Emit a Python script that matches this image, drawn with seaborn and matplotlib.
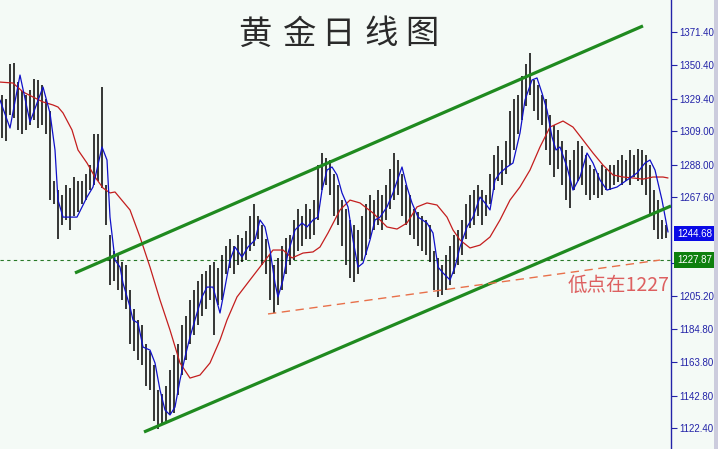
import matplotlib
matplotlib.use("Agg")
import matplotlib.pyplot as plt
import matplotlib.patches as mpatches
import seaborn as sns
import pandas as pd

# ---------------- data ----------------
bar_high = [1332, 1329, 1351, 1352, 1340, 1334, 1332, 1335, 1342, 1341,
            1338, 1329, 1322, 1278, 1272, 1269, 1275, 1273, 1280, 1278,
            1278, 1282, 1288, 1307, 1307, 1337, 1275, 1244, 1234, 1231,
            1227, 1225, 1209, 1197, 1190, 1187, 1175, 1171, 1162, 1146,
            1144, 1149, 1159, 1168, 1175, 1187, 1193, 1203, 1209, 1215,
            1219, 1221, 1225, 1227, 1223, 1231, 1237, 1241, 1237, 1244,
            1242, 1246, 1256, 1263, 1256, 1250, 1241, 1231, 1225, 1229,
            1237, 1242, 1244, 1253, 1260, 1256, 1263, 1260, 1266, 1288,
            1295, 1292, 1291, 1282, 1275, 1266, 1260, 1253, 1250, 1247,
            1256, 1263, 1269, 1266, 1272, 1269, 1275, 1285, 1295, 1291,
            1282, 1275, 1269, 1260, 1258, 1256, 1253, 1250, 1234, 1229,
            1225, 1231, 1237, 1244, 1247, 1253, 1263, 1269, 1272, 1275,
            1272, 1269, 1282, 1294, 1300, 1291, 1303, 1322, 1329, 1332,
            1344, 1351, 1358, 1341, 1338, 1332, 1329, 1319, 1313, 1310,
            1303, 1297, 1291, 1297, 1303, 1300, 1294, 1288, 1285, 1283,
            1288, 1285, 1288, 1288, 1291, 1294, 1291, 1297, 1294, 1298,
            1297, 1294, 1288, 1272, 1266, 1253, 1250]
bar_low = [1305, 1303, 1319, 1317, 1310, 1307, 1310, 1313, 1316, 1311,
           1313, 1307, 1266, 1263, 1241, 1250, 1253, 1247, 1256, 1258,
           1263, 1266, 1272, 1275, 1278, 1273, 1250, 1212, 1215, 1209,
           1203, 1197, 1175, 1171, 1165, 1162, 1149, 1146, 1127, 1122,
           1124, 1127, 1131, 1132, 1143, 1156, 1165, 1175, 1181, 1187,
           1193, 1197, 1203, 1181, 1200, 1203, 1219, 1223, 1219, 1225,
           1227, 1228, 1234, 1237, 1241, 1225, 1219, 1203, 1195, 1200,
           1209, 1219, 1225, 1228, 1234, 1237, 1241, 1241, 1244, 1253,
           1272, 1275, 1269, 1256, 1250, 1237, 1225, 1217, 1214, 1219,
           1228, 1231, 1241, 1247, 1250, 1247, 1253, 1260, 1266, 1269,
           1256, 1250, 1244, 1241, 1237, 1234, 1231, 1227, 1209, 1205,
           1206, 1209, 1212, 1219, 1225, 1231, 1241, 1248, 1250, 1256,
           1250, 1256, 1263, 1272, 1278, 1275, 1282, 1288, 1297, 1307,
           1316, 1325, 1332, 1322, 1316, 1313, 1297, 1288, 1280, 1285,
           1275, 1266, 1261, 1272, 1278, 1275, 1269, 1266, 1269, 1267,
           1269, 1272, 1272, 1275, 1277, 1275, 1278, 1275, 1280, 1278,
           1275, 1269, 1256, 1247, 1241, 1241, 1242]

# fast moving average (blue): bar position, price
ma_fast_pos = [-0.5, 2, 4.5, 7, 10.25, 12, 13.25, 14, 15.25, 18.75, 21.25, 22.75,
               25, 26.25, 27, 28.25, 29.5, 30.25, 32, 32.75, 34, 35.25, 37, 38.25,
               39.5, 40.75, 42, 43.25, 44.5, 45.75, 47, 48.75, 50, 51.25, 52.75,
               54.5, 55.75, 57, 58.25, 60, 61.5, 63.25, 64.5, 65.75, 67, 68.25, 69,
               70.25, 71.5, 73.25, 75, 76.25, 77.75, 79, 80, 81.25, 82.5, 83.75,
               85, 86.5, 87.75, 89, 90.25, 92, 93.25, 94.5, 96.25, 97.75, 100,
               101.25, 102.5, 104, 106.25, 107.75, 109, 110.25, 112, 113.25, 114.5,
               116.25, 117.75, 119.5, 120.75, 122, 123.25, 124.5, 126.25, 127.75,
               129.5, 130.75, 132.5, 133.75, 135, 136.25, 137.5, 138.5, 139.5,
               141.25, 142.75, 144.5, 146.25, 147.75, 149.5, 151.25, 153.75,
               156.25, 158.75, 160.75, 162, 163.25, 165, 166.5]
ma_fast_val = [1328.6, 1311.0, 1344.3, 1314.8, 1336.8, 1320.4, 1297.2, 1265.7, 1255.0,
               1255.0, 1267.6, 1273.9, 1299.1, 1290.9, 1255.0, 1228.0, 1223.6, 1213.5,
               1198.5, 1190.3, 1188.4, 1173.3, 1171.4, 1163.3, 1146.3, 1133.7, 1130.6,
               1135.6, 1152.6, 1167.0, 1179.6, 1194.7, 1204.8, 1211.0, 1211.0, 1194.7,
               1211.0, 1228.0, 1236.2, 1229.9, 1236.2, 1240.6, 1253.2, 1248.8, 1234.3,
               1213.5, 1204.8, 1215.5, 1232.4, 1246.9, 1251.3, 1248.8, 1253.2, 1255.0,
               1272.0, 1284.6, 1286.5, 1281.5, 1270.2, 1261.4, 1240.6, 1223.6, 1226.1,
               1240.6, 1253.2, 1255.0, 1261.4, 1270.2, 1286.5, 1273.9, 1263.9, 1255.0,
               1251.3, 1245.0, 1223.6, 1219.9, 1215.5, 1223.6, 1236.2, 1248.8, 1255.0,
               1267.6, 1263.9, 1259.5, 1278.3, 1282.7, 1286.5, 1289.0, 1307.9, 1328.6,
               1341.2, 1342.5, 1333.0, 1322.3, 1305.4, 1297.2, 1299.1, 1286.5, 1272.0,
               1280.2, 1295.3, 1289.0, 1278.3, 1272.0, 1273.9, 1278.3, 1282.7, 1289.0,
               1290.9, 1284.6, 1265.7, 1245.6]

# slow moving average (red)
ma_slow_pos = [-0.5, 2.75, 5.25, 7.75, 10.25, 12.75, 14, 15.25, 17.5, 19, 21.25, 23.25,
               25.25, 27, 28.25, 32, 34.5, 37, 39.5, 42, 44.5, 47, 49.5, 52, 54.5,
               56.25, 58.75, 62, 65.25, 67.75, 70.25, 72.5, 75.25, 77.75, 79.5, 81.5,
               84.5, 87, 89.5, 92.75, 96.25, 98.75, 101.25, 103.75, 106.25, 108.75,
               111.25, 112.75, 114.5, 117, 119.5, 122, 124.5, 127, 129.5, 132, 134.5,
               137, 140.25, 142.75, 145.25, 147.75, 150.25, 152.75, 155.25, 157.75,
               160.25, 162.75, 165.25, 166.5]
ma_slow_val = [1339.9, 1339.3, 1333.7, 1330.5, 1327.4, 1325.5, 1324.2, 1320.5, 1309.8,
               1297.2, 1289.0, 1280.2, 1273.3, 1270.2, 1270.8, 1259.5, 1242.5, 1223.6,
               1202.9, 1184.0, 1163.3, 1153.8, 1155.7, 1163.3, 1177.7, 1190.3, 1204.8,
               1215.5, 1226.1, 1234.3, 1234.3, 1229.3, 1232.4, 1233.1, 1236.2, 1245.0,
               1259.5, 1265.7, 1263.9, 1257.6, 1248.8, 1247.5, 1251.3, 1261.4, 1263.9,
               1262.6, 1255.0, 1246.9, 1240.6, 1235.6, 1237.4, 1242.5, 1253.2, 1265.7,
               1274.0, 1284.6, 1299.1, 1311.6, 1315.4, 1311.6, 1303.5, 1295.3, 1287.7,
               1281.5, 1280.2, 1279.6, 1278.9, 1280.2, 1280.2, 1279.6]

# channel & trend lines (bar position, price)
upper_pos, upper_val = [18.25, 160.25], [1219.9, 1375.2]
lower_pos, lower_val = [35.5, 167.25], [1119.9, 1262.0]
trend_pos, trend_val = [66.5, 164.5], [1194.1, 1228.0]
support_level = 1227.87
last_price = 1244.68

tick_values = [1371.40, 1350.40, 1329.40, 1309.00, 1288.00, 1267.60, 1226.20,
               1205.20, 1184.80, 1163.80, 1142.80, 1122.40]
tick_labels = ["1371.40", "1350.40", "1329.40", "1309.00", "1288.00", "1267.60",
               "1226.20", "1205.20", "1184.80", "1163.80", "1142.80", "1122.40"]

title_chars = ["黄", "金", "日", "线", "图"]
note_text = "低点在1227"

# ---------------- drawing ----------------
BG = "#F4FAF6"
sns.set_theme(style="white", rc={"axes.facecolor": BG, "figure.facecolor": BG})
plt.rcParams["font.family"] = ["Liberation Sans", "DejaVu Sans"]

fig = plt.figure(figsize=(7.18, 4.49), dpi=100)
ax = fig.add_axes([0, 0, 671 / 718, 1])
ax.set_xlim(-0.5, 167.25)
ax.set_ylim(1109.2, 1391.5)

bars = pd.DataFrame({"pos": range(len(bar_high)), "high": bar_high, "low": bar_low})
ax.vlines(bars["pos"], bars["low"], bars["high"], color="black", lw=1.1, zorder=3)

fast = pd.DataFrame({"pos": ma_fast_pos, "val": ma_fast_val})
slow = pd.DataFrame({"pos": ma_slow_pos, "val": ma_slow_val})
sns.lineplot(data=slow, x="pos", y="val", ax=ax, color="#C41E1E", lw=0.9,
             sort=False, estimator=None, zorder=4)
sns.lineplot(data=fast, x="pos", y="val", ax=ax, color="#1010C8", lw=0.9,
             sort=False, estimator=None, zorder=5)

ax.plot(upper_pos, upper_val, color="#1F8A1F", lw=2.3, zorder=6, solid_capstyle="butt")
ax.plot(lower_pos, lower_val, color="#1F8A1F", lw=2.3, zorder=6, solid_capstyle="butt")
ax.plot(trend_pos, trend_val, color="#E8704A", lw=1.0, ls=(0, (6, 4)), zorder=6)
ax.axhline(support_level, color="#2A7A2A", lw=0.8, ls=(0, (3, 3)), zorder=2)

ax.set_xlabel("")
ax.set_ylabel("")
ax.set_xticks([])
ax.yaxis.tick_right()
ax.set_yticks(tick_values)
ax.set_yticklabels(tick_labels)
ax.tick_params(axis="y", which="both", right=True, left=False, length=4, width=0.8,
               color="#2323A8", labelcolor="#2323A8", labelsize=7, pad=2, direction="out")
for s in ["top", "left", "bottom"]:
    ax.spines[s].set_visible(False)
ax.spines["right"].set_color("#2323A8")
ax.spines["right"].set_linewidth(1.0)

ytr = ax.get_yaxis_transform()
ax.text(1.009, last_price, "1244.68", transform=ytr, ha="left", va="center",
        fontsize=7, color="white", clip_on=False, zorder=10,
        bbox=dict(boxstyle="square,pad=0.3", fc="#0A0AE6", ec="none"))
ax.text(1.009, support_level, "1227.87", transform=ytr, ha="left", va="center",
        fontsize=7, color="white", clip_on=False, zorder=10,
        bbox=dict(boxstyle="square,pad=0.3", fc="#0E800E", ec="none"))

# title
cjk = ["Noto Sans CJK SC", "DejaVu Sans"]
for ch, xc in zip(title_chars, [255, 299, 338, 381, 422]):
    fig.text(xc / 718, 1 - 34 / 449, ch, ha="center", va="center", fontsize=24,
             color="#2a2a2a", family=cjk)

ax.text(141.5, 1212.3, note_text, ha="left", va="center", fontsize=14,
        color="#DD6060", family=cjk, zorder=7)

fig.patches.append(mpatches.Rectangle((714 / 718, 0), 4 / 718, 1, transform=fig.transFigure,
                                      fc="#CCCCDD", ec="none", zorder=0))

fig.savefig("out.png", dpi=100, facecolor=BG)
